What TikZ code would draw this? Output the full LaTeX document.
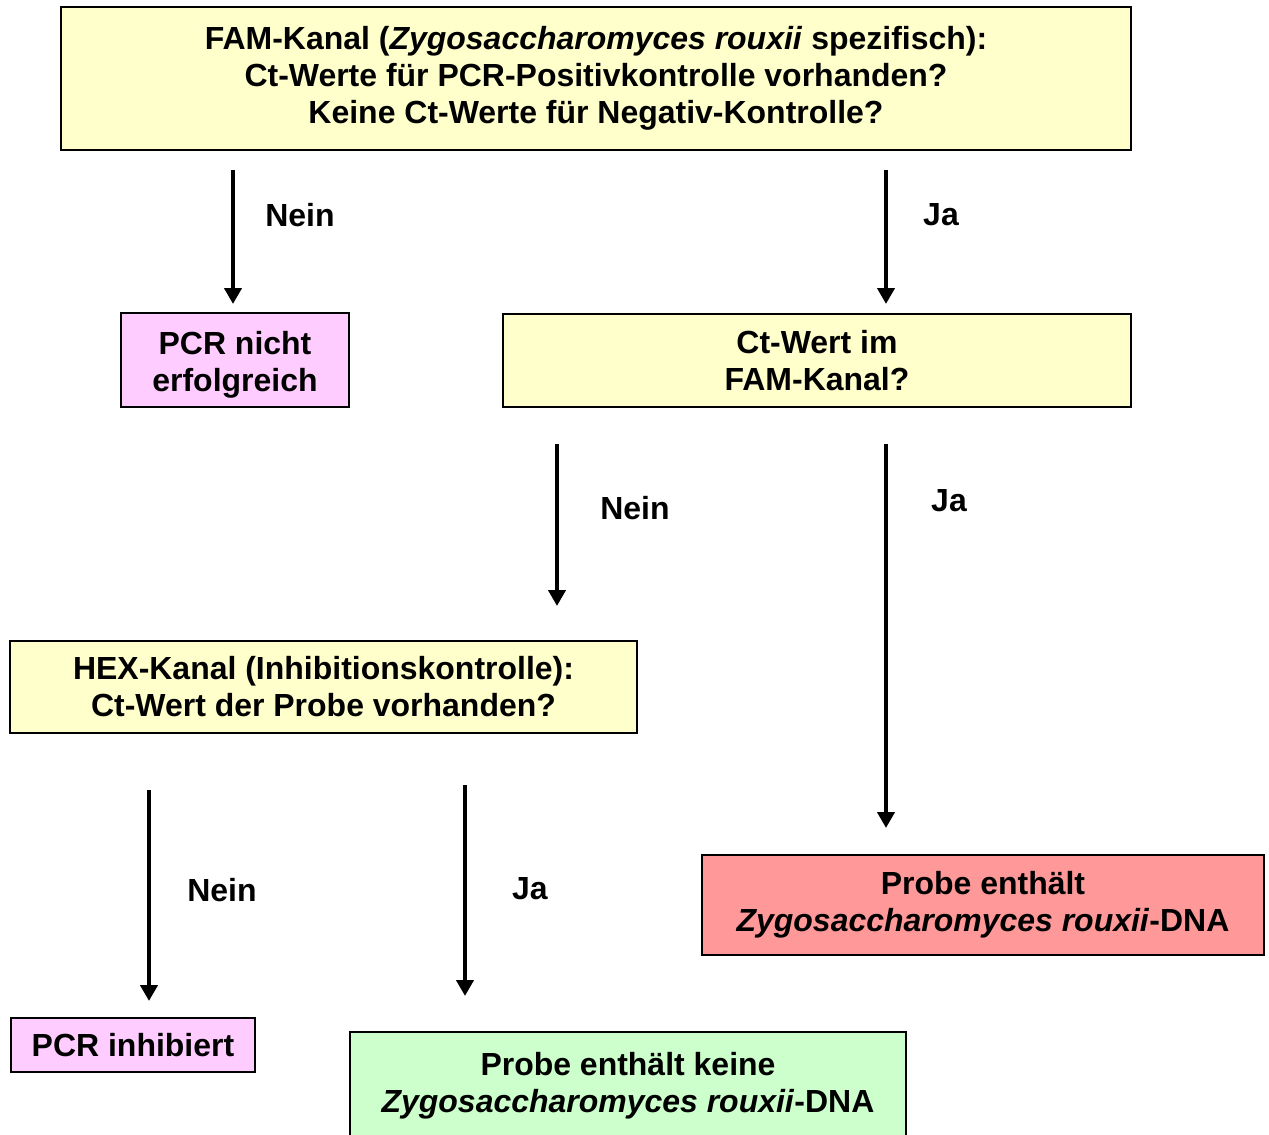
\documentclass[tikz,border=0pt]{standalone}
\usepackage{fontspec}
\setmainfont{Liberation Sans}
\usetikzlibrary{arrows.meta}

\definecolor{boxyellow}{HTML}{FFFFCC}
\definecolor{boxpink}{HTML}{FFCCFF}
\definecolor{boxred}{HTML}{FF9999}
\definecolor{boxgreen}{HTML}{CCFFCC}

\tikzset{
  box/.style={draw=black, line width=1pt, align=center, inner sep=0pt,
    font=\fontsize{18.2}{21}\selectfont\bfseries},
  lbl/.style={font=\fontsize{18.2}{21}\selectfont\bfseries, inner sep=0pt},
  arr/.style={line width=2.3pt, -{Triangle[width=0.34cm,length=0.32cm]}}
}

\begin{document}
\begin{tikzpicture}[x=0.02cm,y=-0.02cm]
  \useasboundingbox (0,0) rectangle (1269,1134);
  % boxes
  \node[box, fill=boxyellow, minimum width=21.4cm, minimum height=2.86cm] (fam) at (596,78.5)
    {FAM-Kanal (\textit{Zygosaccharomyces rouxii} spezifisch):\\
     Ct-Werte für PCR-Positivkontrolle vorhanden?\\
     Keine Ct-Werte für Negativ-Kontrolle?};
  \node[box, fill=boxpink, minimum width=4.56cm, minimum height=1.88cm] (nicht) at (235,360)
    {\rule{0pt}{0.67cm}PCR nicht\\erfolgreich};
  \node[box, fill=boxyellow, minimum width=12.56cm, minimum height=1.86cm] (ctwert) at (817,360.5)
    {Ct-Wert im\\FAM-Kanal?};
  \node[box, fill=boxyellow, minimum width=12.54cm, minimum height=1.84cm] (hex) at (323.5,687)
    {HEX-Kanal (Inhibitionskontrolle):\\Ct-Wert der Probe vorhanden?};
  \node[box, fill=boxred, minimum width=11.24cm, minimum height=2.0cm] (pos) at (983,905)
    {Probe enthält\\\textit{Zygosaccharomyces rouxii}-DNA};
  \node[box, fill=boxpink, minimum width=4.88cm, minimum height=1.08cm] (inhib) at (133,1045)
    {PCR inhibiert};
  \node[box, fill=boxgreen, minimum width=11.12cm, minimum height=2.16cm] (neg) at (628,1086)
    {Probe enthält keine\\\textit{Zygosaccharomyces rouxii}-DNA};
  % arrow ends
  \coordinate (a1s) at (233,170);  \coordinate (a1e) at (233,304);
  \coordinate (a2s) at (886,170);  \coordinate (a2e) at (886,304);
  \coordinate (a3s) at (557,444);  \coordinate (a3e) at (557,606);
  \coordinate (a4s) at (886,444);  \coordinate (a4e) at (886,828);
  \coordinate (a5s) at (149,790);  \coordinate (a5e) at (149,1001);
  \coordinate (a6s) at (465,785);  \coordinate (a6e) at (465,996);
  \draw[arr] (a1s) -- (a1e);
  \draw[arr] (a2s) -- (a2e);
  \draw[arr] (a3s) -- (a3e);
  \draw[arr] (a4s) -- (a4e);
  \draw[arr] (a5s) -- (a5e);
  \draw[arr] (a6s) -- (a6e);
  % labels
  \node[lbl] (l1) at (300,215) {Nein};
  \node[lbl] (l2) at (941,215) {Ja};
  \node[lbl] (l3) at (635,508) {Nein};
  \node[lbl] (l4) at (949,501) {Ja};
  \node[lbl] (l5) at (222,890) {Nein};
  \node[lbl] (l6) at (530,889) {Ja};
\end{tikzpicture}
\end{document}
